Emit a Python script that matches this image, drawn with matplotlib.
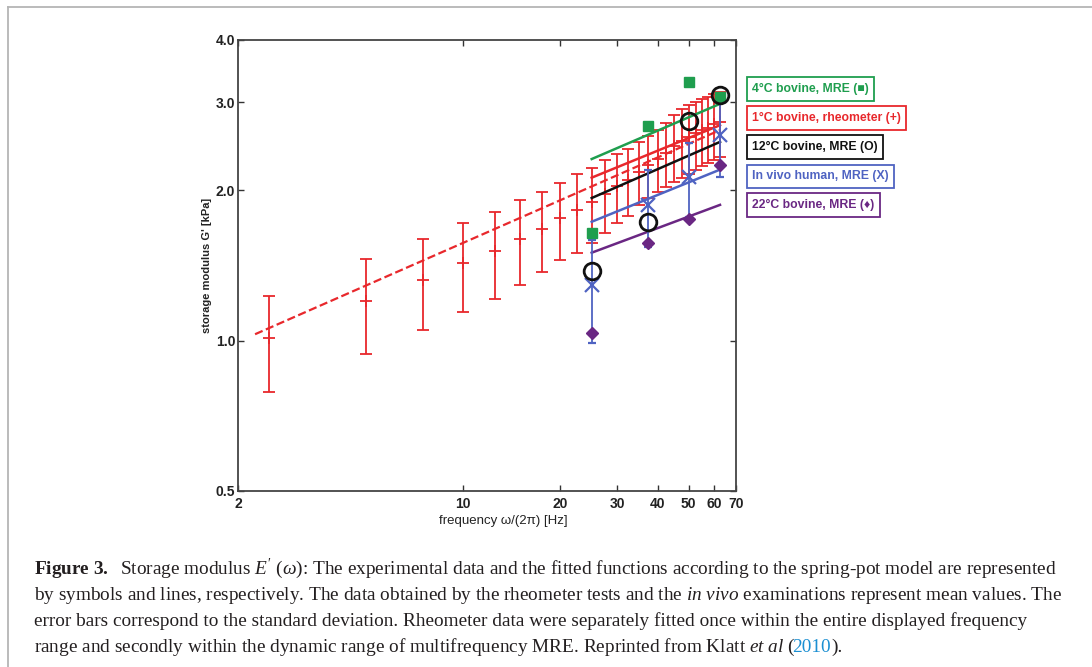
import numpy as np
import matplotlib
matplotlib.use('Agg')
import matplotlib.pyplot as plt
import matplotlib.ticker as ticker
from matplotlib.lines import Line2D

# ------------------------------------------------------------------------------
# Data
# ------------------------------------------------------------------------------
# 1 degC bovine, rheometer: mean and standard deviation [kPa]
rheo_freq = [2.5, 5, 7.5, 10, 12.5, 15, 17.5, 20, 22.5, 25, 27.5, 30, 32.5,
             35, 37.5, 40, 42.5, 45, 47.5, 50, 52.5, 55, 57.5, 60, 62.5]
rheo_mean = [1.01, 1.20, 1.325, 1.43, 1.51, 1.60, 1.675, 1.76, 1.83, 1.895,
             1.97, 2.04, 2.10, 2.18, 2.25, 2.31, 2.38, 2.45, 2.51, 2.56,
             2.60, 2.64, 2.67, 2.71, 2.74]
rheo_sd = [0.22, 0.26, 0.275, 0.29, 0.30, 0.31, 0.305, 0.31, 0.33, 0.325,
           0.33, 0.32, 0.325, 0.315, 0.32, 0.33, 0.35, 0.375, 0.395, 0.405,
           0.40, 0.40, 0.40, 0.41, 0.41]

# fitted lines (end points)
rheo_fit_all_f = [2.26, 62.5]
rheo_fit_all_g = [1.03, 2.64]
rheo_fit_mre_f = [25, 62.5]
rheo_fit_mre_g = [2.12, 2.70]

mre_freq = [25, 37.5, 50, 62.5]
bov4_g = [1.64, 2.69, 3.30, 3.08]
bov12_g = [1.38, 1.73, 2.75, 3.11]
human_g = [1.29, 1.87, 2.13, 2.58]
human_sd = [0.30, 0.33, 0.36, 0.45]
bov22_g = [1.035, 1.57, 1.75, 2.25]

fit_f = [25, 62.5]
bov4_fit = [2.31, 2.98]
bov12_fit = [1.93, 2.50]
human_fit = [1.73, 2.20]
bov22_fit = [1.50, 1.87]

legend_labels = ['4°C bovine, MRE (■)', '1°C bovine, rheometer (+)',
                 '12°C bovine, MRE (O)', 'In vivo human, MRE (X)',
                 '22°C bovine, MRE (♦)']

xticks = [2, 10, 20, 30, 40, 50, 60, 70]
yticks = [0.5, 1.0, 2.0, 3.0, 4.0]

# ------------------------------------------------------------------------------
# Style
# ------------------------------------------------------------------------------
RED = '#e8282c'
GREEN = '#1f9e4e'
BLACK = '#111111'
BLUE = '#4f63c2'
PURPLE = '#6a2783'

plt.rcParams['font.family'] = ['Liberation Sans', 'DejaVu Sans']
plt.rcParams['mathtext.fontset'] = 'custom'
plt.rcParams['mathtext.rm'] = 'Liberation Serif'
plt.rcParams['mathtext.it'] = 'Liberation Serif:italic'
plt.rcParams['mathtext.bf'] = 'Liberation Serif:bold'

fig = plt.figure(figsize=(10.92, 6.67), dpi=100)
ax = fig.add_axes([0.2179, 0.2639, 0.456, 0.6762])

# --- Rheometer data ---
ax.errorbar(rheo_freq, rheo_mean, yerr=rheo_sd, fmt='+', color=RED,
            ecolor=RED, elinewidth=1.3, capsize=4, capthick=1.3,
            markersize=9, markeredgewidth=1.3, zorder=2)
ax.plot(rheo_fit_all_f, rheo_fit_all_g, '--', color=RED, lw=1.6, zorder=3)
ax.plot(rheo_fit_mre_f, rheo_fit_mre_g, '-', color=RED, lw=1.8, zorder=3)

# --- MRE fits ---
ax.plot(fit_f, bov4_fit, '-', color=GREEN, lw=1.8, zorder=4)
ax.plot(fit_f, bov12_fit, '-', color=BLACK, lw=1.8, zorder=4)
ax.plot(fit_f, human_fit, '-', color=BLUE, lw=1.8, zorder=4)
ax.plot(fit_f, bov22_fit, '-', color=PURPLE, lw=1.8, zorder=4)

# --- MRE data ---
ax.errorbar(mre_freq, human_g, yerr=human_sd, fmt='x', color=BLUE,
            ecolor=BLUE, elinewidth=1.3, capsize=3, capthick=1.2,
            markersize=10, markeredgewidth=1.6, zorder=5)
ax.plot(mre_freq, bov22_g, 'D', color=PURPLE, markersize=6, zorder=6)
ax.plot(mre_freq, bov4_g, 's', color=GREEN, markersize=7, zorder=6)
ax.plot(mre_freq, bov12_g, 'o', mfc='none', mec=BLACK, markersize=12,
        markeredgewidth=2, zorder=7)

# --- Axes formatting ---
ax.set_xscale('log')
ax.set_yscale('log')
ax.set_xlim(2, 70)
ax.set_ylim(0.5, 4.0)
ax.xaxis.set_major_locator(ticker.FixedLocator(xticks))
ax.xaxis.set_major_formatter(ticker.FixedFormatter([str(t) for t in xticks]))
ax.xaxis.set_minor_locator(ticker.NullLocator())
ax.yaxis.set_major_locator(ticker.FixedLocator(yticks))
ax.yaxis.set_major_formatter(ticker.FixedFormatter([f'{t:.1f}' for t in yticks]))
ax.yaxis.set_minor_locator(ticker.NullLocator())
ax.tick_params(direction='in', length=4, width=1, top=True, right=True,
               labelsize=10, colors='#333333', pad=4)
ax.tick_params(axis='y', pad=2)
for lab in ax.get_xticklabels() + ax.get_yticklabels():
    lab.set_fontweight('bold')
    lab.set_color('#222222')
for sp in ax.spines.values():
    sp.set_color('#444444')
    sp.set_linewidth(1.3)

ax.set_xlabel('frequency ω/(2π) [Hz]', fontsize=9.5, color='#222222')
ax.xaxis.set_label_coords((503 - 238) / 498, -0.053)
ax.set_ylabel("storage modulus G' [kPa]", fontsize=8, fontweight='bold',
              color='#222222')
ax.yaxis.set_label_coords(-0.052, 0.5)

# --- Legend boxes ---
leg_colors = [GREEN, RED, BLACK, BLUE, PURPLE]
leg_y = [89, 118, 147, 176, 205]
for label, col, yp in zip(legend_labels, leg_colors, leg_y):
    fig.text(752 / 1092, 1 - yp / 667, label, color=col, fontsize=8.8,
             fontweight='bold', va='center', ha='left',
             bbox=dict(boxstyle='square,pad=0.45', fc='white', ec=col, lw=1.3))

# --- Outer frame ---
fig.add_artist(Line2D([8 / 1092, 8 / 1092], [0, 1 - 7 / 667],
                      transform=fig.transFigure, color='#b5b5b5', lw=1.3))
fig.add_artist(Line2D([8 / 1092, 1], [1 - 7 / 667, 1 - 7 / 667],
                      transform=fig.transFigure, color='#b5b5b5', lw=1.3))

# --- Caption ---
cap_kw = dict(fontsize=13.9, family='Liberation Serif', color='#231f20',
              va='baseline', ha='left')
cap_x = 34 / 1092
cap_lines = [
    r"$\mathbf{Figure\ 3.}$  Storage modulus $E'\ (\omega)$: The experimental data and the fitted functions according to the spring-pot model are represented",
    r"by symbols and lines, respectively. The data obtained by the rheometer tests and the $\mathit{in\ vivo}$ examinations represent mean values. The",
    r"error bars correspond to the standard deviation. Rheometer data were separately fitted once within the entire displayed frequency",
]
cap_base = [574, 600, 626, 652]
for line, yb in zip(cap_lines, cap_base):
    fig.text(cap_x, 1 - yb / 667, line, **cap_kw)

yr = 1 - cap_base[3] / 667
last = fig.text(cap_x, yr,
                r"range and secondly within the dynamic range of multifrequency MRE. Reprinted from Klatt $\mathit{et\ al}$ (",
                **cap_kw)
t2 = ax.annotate('2010', xy=(1, yr), xycoords=(last, 'figure fraction'),
                 xytext=(-3, 0), textcoords='offset pixels',
                 annotation_clip=False, **dict(cap_kw, color='#1b8fd2'))
ax.annotate(').', xy=(1, yr), xycoords=(t2, 'figure fraction'),
            annotation_clip=False, **cap_kw)

fig.savefig('out.png', dpi=100)
